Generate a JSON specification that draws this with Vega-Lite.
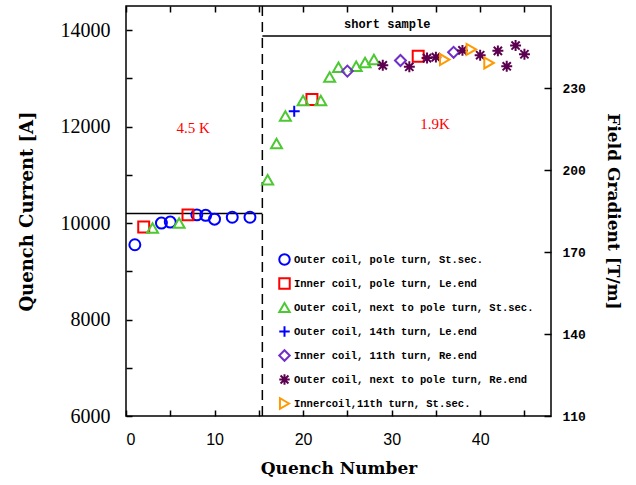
{
  "$schema": "https://vega.github.io/schema/vega-lite/v6.json",
  "width": 425,
  "height": 410,
  "autosize": {"type": "none"},
  "padding": {"left": 126, "top": 6, "right": 85, "bottom": 69},
  "background": "white",
  "config": {
    "view": {"stroke": "black", "strokeWidth": 1.5},
    "axis": {"grid": false, "domain": false, "tickColor": "black", "labelColor": "black", "titleColor": "black", "tickWidth": 1.5}
  },
  "layer": [
    {
      "data": {"values": [
        {"x": 0, "x2": 15.4, "y": 10200},
        {"x": 15.4, "x2": 48, "y": 13880}
      ]},
      "mark": {"type": "rule", "color": "black", "strokeWidth": 1.5},
      "encoding": {
        "x": {"field": "x", "type": "quantitative", "scale": {"domain": [0, 48], "nice": false, "zero": false}, "axis": null},
        "x2": {"field": "x2"},
        "y": {"field": "y", "type": "quantitative", "scale": {"domain": [6000, 14500], "nice": false, "zero": false}, "axis": null}
      }
    },
    {
      "data": {"values": [{"x": 15.4}]},
      "mark": {"type": "rule", "color": "black", "strokeWidth": 1.5, "strokeDash": [10, 6]},
      "encoding": {
        "x": {"field": "x", "type": "quantitative", "scale": {"domain": [0, 48], "nice": false, "zero": false}, "axis": null}
      }
    },
    {
      "data": {"values": [
        {"x": 7.6, "y": 11980, "label": "4.5 K"},
        {"x": 34.9, "y": 12060, "label": "1.9K"}
      ]},
      "mark": {"type": "text", "color": "#ff0000", "font": "Liberation Serif", "fontSize": 15, "align": "center", "baseline": "middle"},
      "encoding": {
        "x": {"field": "x", "type": "quantitative", "scale": {"domain": [0, 48], "nice": false, "zero": false}, "axis": null},
        "y": {"field": "y", "type": "quantitative", "scale": {"domain": [6000, 14500], "nice": false, "zero": false}, "axis": null},
        "text": {"field": "label"}
      }
    },
    {
      "data": {"values": [{"x": 29.5, "y": 14125, "label": "short sample"}]},
      "mark": {"type": "text", "color": "black", "font": "Liberation Mono", "fontWeight": "bold", "fontSize": 12, "align": "center", "baseline": "middle"},
      "encoding": {
        "x": {"field": "x", "type": "quantitative", "scale": {"domain": [0, 48], "nice": false, "zero": false}, "axis": null},
        "y": {"field": "y", "type": "quantitative", "scale": {"domain": [6000, 14500], "nice": false, "zero": false}, "axis": null},
        "text": {"field": "label"}
      }
    },
    {
      "data": {"values": [
        {"series": "Outer coil, pole turn, St.sec.", "quench": 1, "current": 9550},
        {"series": "Outer coil, pole turn, St.sec.", "quench": 4, "current": 10000},
        {"series": "Outer coil, pole turn, St.sec.", "quench": 5, "current": 10020},
        {"series": "Outer coil, pole turn, St.sec.", "quench": 8, "current": 10170},
        {"series": "Outer coil, pole turn, St.sec.", "quench": 9, "current": 10160},
        {"series": "Outer coil, pole turn, St.sec.", "quench": 10, "current": 10080},
        {"series": "Outer coil, pole turn, St.sec.", "quench": 12, "current": 10120},
        {"series": "Outer coil, pole turn, St.sec.", "quench": 14, "current": 10120},
        {"series": "Inner coil, pole turn, Le.end", "quench": 2, "current": 9920},
        {"series": "Inner coil, pole turn, Le.end", "quench": 7, "current": 10170},
        {"series": "Inner coil, pole turn, Le.end", "quench": 21, "current": 12560},
        {"series": "Inner coil, pole turn, Le.end", "quench": 33, "current": 13460},
        {"series": "Outer coil, next to pole turn, St.sec.", "quench": 3, "current": 9900},
        {"series": "Outer coil, next to pole turn, St.sec.", "quench": 6, "current": 10000},
        {"series": "Outer coil, next to pole turn, St.sec.", "quench": 16, "current": 10900},
        {"series": "Outer coil, next to pole turn, St.sec.", "quench": 17, "current": 11650},
        {"series": "Outer coil, next to pole turn, St.sec.", "quench": 18, "current": 12220},
        {"series": "Outer coil, next to pole turn, St.sec.", "quench": 20, "current": 12540},
        {"series": "Outer coil, next to pole turn, St.sec.", "quench": 22, "current": 12540},
        {"series": "Outer coil, next to pole turn, St.sec.", "quench": 23, "current": 13030},
        {"series": "Outer coil, next to pole turn, St.sec.", "quench": 24, "current": 13230},
        {"series": "Outer coil, next to pole turn, St.sec.", "quench": 26, "current": 13250},
        {"series": "Outer coil, next to pole turn, St.sec.", "quench": 27, "current": 13330},
        {"series": "Outer coil, next to pole turn, St.sec.", "quench": 28, "current": 13390},
        {"series": "Outer coil, 14th turn, Le.end", "quench": 19, "current": 12320},
        {"series": "Inner coil, 11th turn, Re.end", "quench": 25, "current": 13150},
        {"series": "Inner coil, 11th turn, Re.end", "quench": 31, "current": 13370},
        {"series": "Inner coil, 11th turn, Re.end", "quench": 37, "current": 13540},
        {"series": "Outer coil, next to pole turn, Re.end", "quench": 29, "current": 13270},
        {"series": "Outer coil, next to pole turn, Re.end", "quench": 32, "current": 13240},
        {"series": "Outer coil, next to pole turn, Re.end", "quench": 34, "current": 13420},
        {"series": "Outer coil, next to pole turn, Re.end", "quench": 35, "current": 13440},
        {"series": "Outer coil, next to pole turn, Re.end", "quench": 38, "current": 13580},
        {"series": "Outer coil, next to pole turn, Re.end", "quench": 40, "current": 13480},
        {"series": "Outer coil, next to pole turn, Re.end", "quench": 42, "current": 13570},
        {"series": "Outer coil, next to pole turn, Re.end", "quench": 43, "current": 13250},
        {"series": "Outer coil, next to pole turn, Re.end", "quench": 44, "current": 13680},
        {"series": "Outer coil, next to pole turn, Re.end", "quench": 45, "current": 13500},
        {"series": "Innercoil,11th turn, St.sec.", "quench": 36, "current": 13390},
        {"series": "Innercoil,11th turn, St.sec.", "quench": 39, "current": 13600},
        {"series": "Innercoil,11th turn, St.sec.", "quench": 41, "current": 13320}
      ]},
      "mark": {"type": "point", "filled": false, "strokeWidth": 2, "opacity": 1, "size": 120},
      "encoding": {
        "x": {
          "field": "quench", "type": "quantitative",
          "scale": {"domain": [0, 48], "nice": false, "zero": false},
          "axis": {
            "orient": "bottom", "values": [0, 5, 10, 15, 20, 25, 30, 35, 40, 45],
            "labelExpr": "datum.value % 10 === 0 ? datum.label : ''",
            "tickSize": -6, "labelPadding": 21,
            "labelFont": "Liberation Sans", "labelFontSize": 16,
            "title": "Quench Number", "titleFont": "DejaVu Serif", "titleFontWeight": "bold", "titleFontSize": 17, "titlePadding": 13
          }
        },
        "y": {
          "field": "current", "type": "quantitative",
          "scale": {"domain": [6000, 14500], "nice": false, "zero": false},
          "axis": {
            "orient": "left", "values": [6000, 7000, 8000, 9000, 10000, 11000, 12000, 13000, 14000],
            "labelExpr": "datum.value % 2000 === 0 ? format(datum.value, 'd') : ''",
            "tickSize": -6, "labelPadding": 22,
            "labelFont": "Liberation Serif", "labelFontSize": 20,
            "title": "Quench Current [A]", "titleFont": "DejaVu Serif", "titleFontWeight": "bold", "titleFontSize": 18, "titlePadding": 24
          }
        },
        "color": {
          "field": "series", "type": "nominal",
          "scale": {
            "domain": ["Outer coil, pole turn, St.sec.", "Inner coil, pole turn, Le.end", "Outer coil, next to pole turn, St.sec.", "Outer coil, 14th turn, Le.end", "Inner coil, 11th turn, Re.end", "Outer coil, next to pole turn, Re.end", "Innercoil,11th turn, St.sec."],
            "range": ["#0000ff", "#ff0000", "#4cc832", "#0000ff", "#7030c8", "#5c0050", "#ff9900"]
          },
          "legend": {
            "orient": "none", "legendX": 152, "legendY": 247, "title": null, "padding": 0,
            "labelFont": "Liberation Mono", "labelFontSize": 10.5, "labelFontWeight": "bold", "labelColor": "black", "labelLimit": 400,
            "symbolSize": 110, "symbolStrokeWidth": 2, "rowPadding": 5, "labelOffset": 3
          }
        },
        "shape": {
          "field": "series", "type": "nominal",
          "scale": {
            "domain": ["Outer coil, pole turn, St.sec.", "Inner coil, pole turn, Le.end", "Outer coil, next to pole turn, St.sec.", "Outer coil, 14th turn, Le.end", "Inner coil, 11th turn, Re.end", "Outer coil, next to pole turn, Re.end", "Innercoil,11th turn, St.sec."],
            "range": ["circle", "square", "triangle-up", "M-1,0L1,0M0,-1L0,1", "diamond", "M-1,0L1,0M0,-1L0,1M-0.75,-0.75L0.75,0.75M-0.75,0.75L0.75,-0.75", "triangle-right"]
          }
        }
      }
    },
    {
      "data": {"values": [{"q": 0, "g": 110}, {"q": 48, "g": 260}]},
      "mark": {"type": "point", "opacity": 0},
      "encoding": {
        "x": {
          "field": "q", "type": "quantitative",
          "scale": {"domain": [0, 48], "nice": false, "zero": false},
          "axis": {"orient": "top", "values": [0, 5, 10, 15, 20, 25, 30, 35, 40, 45], "labels": false, "tickSize": -6, "title": null}
        },
        "y": {
          "field": "g", "type": "quantitative",
          "scale": {"domain": [110, 260], "nice": false, "zero": false},
          "axis": {
            "orient": "right", "values": [110, 140, 170, 200, 230],
            "tickSize": -7, "labelPadding": 18,
            "labelFont": "Liberation Mono", "labelFontWeight": "bold", "labelFontSize": 13,
            "title": "Field Gradient [T/m]", "titleFont": "DejaVu Serif", "titleFontWeight": "bold", "titleFontSize": 17, "titlePadding": 18
          }
        }
      }
    }
  ],
  "resolve": {"scale": {"x": "independent", "y": "independent"}}
}
